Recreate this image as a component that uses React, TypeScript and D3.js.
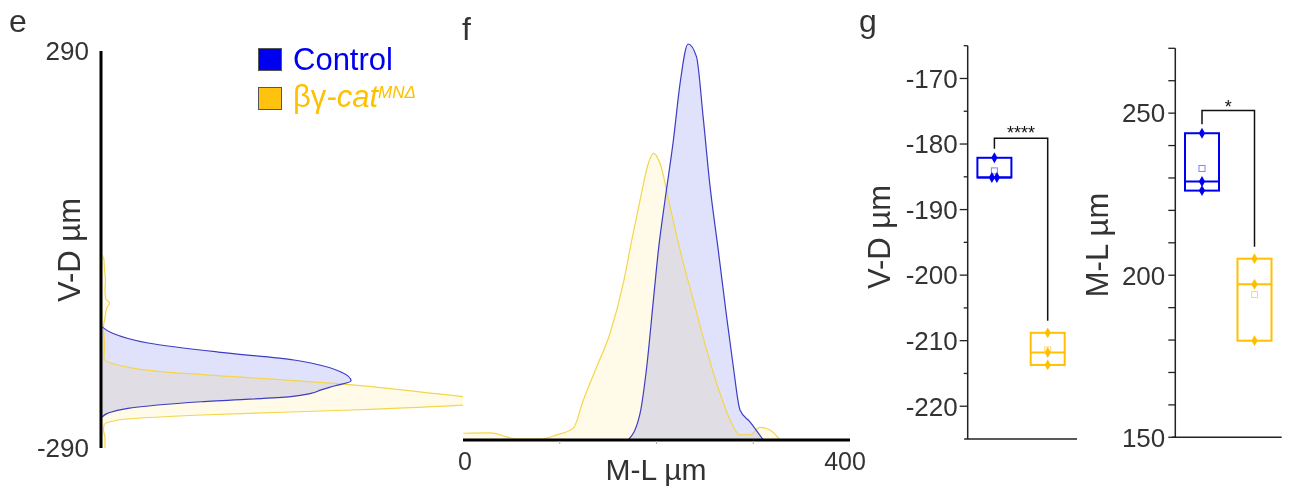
import React from 'react'
import * as d3 from 'd3'

const [W, H] = [1293, 489]
const FONT = '"Liberation Sans", Arial, sans-serif'
const INK = '#333'
const BLUE = '#0000f0'
const GOLD = '#ffc000'

// panel e: V-D density profiles, [V-D µm, relative density]
const vdControl: [number, number][] = [
  [-113, 0], [-122, 0.04], [-136.6, 0.185], [-149.8, 0.466], [-161.4, 0.771], [-165.8, 0.839],
  [-179, 0.96], [-192, 1.0], [-199.4, 0.932], [-205, 0.88], [-210.3, 0.839], [-215, 0.759],
  [-222.4, 0.398], [-232, 0.104], [-239, 0.024], [-245, 0]
]
const vdMutant: [number, number][] = [
  [-8, 0], [-15, 0.008], [-30, 0.01], [-45, 0.014], [-60, 0.012], [-72, 0.015], [-78, 0.03],
  [-85, 0.02], [-100, 0.012], [-113, 0.006], [-140, 0.01], [-159, 0.008], [-173.6, 0.129],
  [-178.5, 0.237], [-185.8, 0.53], [-195.5, 0.932], [-215, 1.454], [-221.4, 1.65], [-227.2, 1.454],
  [-234.5, 1.0], [-241.8, 0.398], [-249.1, 0.064], [-256.4, 0.008], [-264, 0.006], [-275, 0.012],
  [-290, 0.012]
]

// panel f: M-L density profiles, [M-L µm, relative density]
const mlControl: [number, number][] = [
  [170.8, 0], [183, 0.067], [189.9, 0.185], [196.8, 0.354], [202, 0.48], [208.8, 0.606],
  [217.5, 0.758], [224.4, 0.901], [232.6, 1.0], [241.3, 0.968], [248.2, 0.816], [255, 0.648],
  [263.8, 0.48], [272.5, 0.311], [279.4, 0.185], [286.3, 0.076], [296.6, 0.046], [310.4, 0]
]
const mlMutant: [number, number][] = [
  [0.3, 0.017], [27.9, 0.018], [45.2, 0.008], [55.5, 0.002], [79.6, 0.002], [96.9, 0.013],
  [114, 0.03], [124.4, 0.101], [138.2, 0.185], [151.9, 0.269], [165.7, 0.396], [174.4, 0.505],
  [183, 0.606], [191.6, 0.699], [196.8, 0.724], [203.6, 0.699], [214, 0.589], [224.3, 0.48],
  [238, 0.354], [251.9, 0.227], [265.6, 0.118], [276, 0.051], [286.3, 0.013], [296.6, 0.013],
  [307, 0.032], [317.3, 0.025], [327.6, 0]
]

// panel g: per-animal values
const groups = ['Control', 'Mutant']
const vdControlPts = [-182.1, -185.1, -185.1]
const vdMutantPts = [-208.8, -211.8, -213.7]
const mlControlPts = [243.8, 228.9, 226.1]
const mlMutantPts = [205.1, 197.2, 179.8]
const vdBracket = -179.1
const mlBracket = 250.8
const vdStars = '****'
const mlStars = '*'

const vdTicks = [-220, -210, -200, -190, -180, -170]
const vdMinor = [-215, -205, -195, -185, -175, -165]
const mlLabels = [150, 200, 250]
const mlTicks = d3.range(150, 271, 10)

function jitter(vals: number[]) {
  // spread points that share the same value
  return vals.map((v, i) => {
    const same = vals.map((w, j) => [w, j] as [number, number]).filter(([w]) => Math.abs(w - v) < 0.5)
    if (same.length < 2) return 0
    const k = same.findIndex(([, j]) => j === i)
    return (k - (same.length - 1) / 2) * 5
  })
}

function BoxPanel({ yScale, axisX, axisEnd, xCenters, series, ticks, minor, tickLen, minorLen, labels,
  label, labelX, labelY, bracket, stars, starsDy }: any) {
  const [y0] = yScale.range()
  const colors = [BLUE, GOLD]
  const lightColors = ['#8080ff', '#ffd966']
  const tops = series.map((s: number[]) => yScale(d3.max(s)))
  const by = yScale(bracket)
  return (
    <g>
      <line x1={axisX} x2={axisX} y1={y0} y2={yScale.range()[1]} stroke="#222" strokeWidth={1.5} />
      <line x1={axisX - 3.5} x2={axisEnd} y1={y0} y2={y0} stroke="#222" strokeWidth={1.5} />
      {ticks.map((t: number) => (
        <line key={'t' + t} x1={axisX - tickLen} x2={axisX} y1={yScale(t)} y2={yScale(t)} stroke="#222" strokeWidth={1.3} />
      ))}
      {minor.map((t: number) => (
        <line key={'m' + t} x1={axisX - minorLen} x2={axisX} y1={yScale(t)} y2={yScale(t)} stroke="#222" strokeWidth={1.3} />
      ))}
      {labels.map((t: number) => (
        <text key={'l' + t} x={axisX - 10} y={yScale(t)} dy="0.36em" textAnchor="end" fontSize={26} fill={INK}>{t}</text>
      ))}
      <text transform={`translate(${labelX},${labelY}) rotate(-90)`} textAnchor="middle" fontSize={31} fill={INK}>{label}</text>
      {series.map((s: number[], i: number) => {
        const cx = xCenters(groups[i])
        const lo = yScale(d3.min(s)!)
        const hi = yScale(d3.max(s)!)
        const med = yScale(d3.median(s)!)
        const mean = yScale(d3.mean(s)!)
        const off = jitter(s)
        return (
          <g key={i}>
            <rect x={cx - 17} y={hi} width={34} height={lo - hi} fill="none" stroke={colors[i]} strokeWidth={2} />
            <line x1={cx - 17} x2={cx + 17} y1={med} y2={med} stroke={colors[i]} strokeWidth={2} />
            <rect x={cx - 3} y={mean - 3} width={6} height={6} fill="none" stroke={lightColors[i]} strokeWidth={1} />
            {s.map((v, j) => (
              <path key={j} transform={`translate(${cx + off[j]},${yScale(v)})`}
                d={d3.symbol(d3.symbolDiamond, 34)()!} fill={colors[i]} />
            ))}
          </g>
        )
      })}
      <path d={`M${xCenters(groups[0])},${tops[0] - 9}V${by}H${xCenters(groups[1])}V${tops[1] - 12}`}
        fill="none" stroke="#111" strokeWidth={1.5} />
      <text x={(xCenters(groups[0]) + xCenters(groups[1])) / 2} y={by + starsDy} textAnchor="middle" fontSize={18} fill="#111">{stars}</text>
    </g>
  )
}

export default function App() {
  // panel e scales
  const yE = d3.scaleLinear().domain([-290, 290]).range([448, 51])
  const xE = d3.scaleLinear().domain([0, 1]).range([102, 351])
  const areaE = d3.area<[number, number]>()
    .y(d => yE(d[0])).x0(xE(0)).x1(d => xE(d[1])).curve(d3.curveMonotoneY)
  const lineE = d3.line<[number, number]>()
    .y(d => yE(d[0])).x(d => xE(d[1])).curve(d3.curveMonotoneY)

  // panel f scales
  const xF = d3.scaleLinear().domain([0, 400]).range([463, 850])
  const yF = d3.scaleLinear().domain([0, 1]).range([440, 44])
  const areaF = d3.area<[number, number]>()
    .x(d => xF(d[0])).y0(yF(0)).y1(d => yF(d[1])).curve(d3.curveMonotoneX)
  const lineF = d3.line<[number, number]>()
    .x(d => xF(d[0])).y(d => yF(d[1])).curve(d3.curveMonotoneX)

  // panel g scales
  const yVD = d3.scaleLinear().domain([-225, -165]).range([439, 45.7])
  const xVD = d3.scalePoint<string>().domain(groups).range([994.4, 1047.7])
  const yML = d3.scaleLinear().domain([150, 270]).range([437.3, 48.3])
  const xML = d3.scalePoint<string>().domain(groups).range([1202, 1254.5])

  const sortE = (a: [number, number][]) => [...a].sort((p, q) => q[0] - p[0])

  return (
    <svg width={W} height={H} style={{ position: 'absolute', left: 0, top: 0, fontFamily: FONT }}>
      <defs>
        <clipPath id="clipE"><rect x={102} y={0} width={361} height={H} /></clipPath>
      </defs>

      {/* panel e */}
      <text x={9} y={32} fontSize={32} fill={INK}>e</text>
      <g clipPath="url(#clipE)">
        <path d={areaE(sortE(vdControl))!} fill="#e0e2fb" style={{ mixBlendMode: 'multiply' }} />
        <path d={areaE(sortE(vdMutant))!} fill="#fffbe8" style={{ mixBlendMode: 'multiply' }} />
        <path d={lineE(sortE(vdMutant))!} fill="none" stroke="#f3d64a" strokeWidth={1.2} />
        <path d={lineE(sortE(vdControl))!} fill="none" stroke="#3d3dc4" strokeWidth={1.2} />
      </g>
      <line x1={101} x2={101} y1={yE(290)} y2={yE(-290)} stroke="#000" strokeWidth={3} />
      <text x={89} y={yE(290)} dy="0.36em" textAnchor="end" fontSize={26} fill={INK}>290</text>
      <text x={89} y={yE(-290)} dy="0.36em" textAnchor="end" fontSize={26} fill={INK}>-290</text>
      <text transform="translate(80,250) rotate(-90)" textAnchor="middle" fontSize={31} fill={INK}>V-D µm</text>

      {/* legend */}
      <rect x={258.5} y={48.5} width={23} height={22} fill={BLUE} stroke="#555" strokeWidth={1} />
      <text x={293} y={70} fontSize={31} fill={BLUE}>Control</text>
      <rect x={258.5} y={87.5} width={23} height={22} fill="#ffc20e" stroke="#555" strokeWidth={1} />
      <text x={293} y={107} fontSize={31} fill={GOLD}>
        βγ<tspan fontStyle="italic">-cat</tspan>
        <tspan fontStyle="italic" fontSize={17} dy={-9}>MNΔ</tspan>
      </text>

      {/* panel f */}
      <text x={462} y={40} fontSize={32} fill={INK}>f</text>
      <path d={areaF(mlControl)!} fill="#e0e2fb" style={{ mixBlendMode: 'multiply' }} />
      <path d={areaF(mlMutant)!} fill="#fffbe8" style={{ mixBlendMode: 'multiply' }} />
      <path d={lineF(mlMutant)!} fill="none" stroke="#f3d64a" strokeWidth={1.2} />
      <path d={lineF(mlControl)!} fill="none" stroke="#3d3dc4" strokeWidth={1.2} />
      <line x1={xF(0)} x2={xF(400)} y1={440} y2={440} stroke="#000" strokeWidth={3} />
      {[100, 200, 300].map(t => (
        <line key={t} x1={xF(t)} x2={xF(t)} y1={441} y2={444} stroke="#aaa" strokeWidth={1} />
      ))}
      <text x={xF(0) + 2} y={470} textAnchor="middle" fontSize={25} fill={INK}>0</text>
      <text x={xF(400) - 5} y={470} textAnchor="middle" fontSize={25} fill={INK}>400</text>
      <text x={656} y={480} textAnchor="middle" fontSize={30} fill={INK}>M-L µm</text>

      {/* panel g */}
      <text x={859} y={32} fontSize={32} fill={INK}>g</text>
      <BoxPanel yScale={yVD} axisX={967.7} axisEnd={1077} xCenters={xVD}
        series={[vdControlPts, vdMutantPts]} ticks={vdTicks} minor={vdMinor} tickLen={8} minorLen={4}
        labels={vdTicks} label="V-D µm" labelX={890} labelY={237} bracket={vdBracket}
        stars={vdStars} starsDy={1} />
      <BoxPanel yScale={yML} axisX={1175.3} axisEnd={1281.7} xCenters={xML}
        series={[mlControlPts, mlMutantPts]} ticks={mlTicks} minor={[]} tickLen={7} minorLen={0}
        labels={mlLabels} label="M-L µm" labelX={1108} labelY={245} bracket={mlBracket}
        stars={mlStars} starsDy={2} />
    </svg>
  )
}
